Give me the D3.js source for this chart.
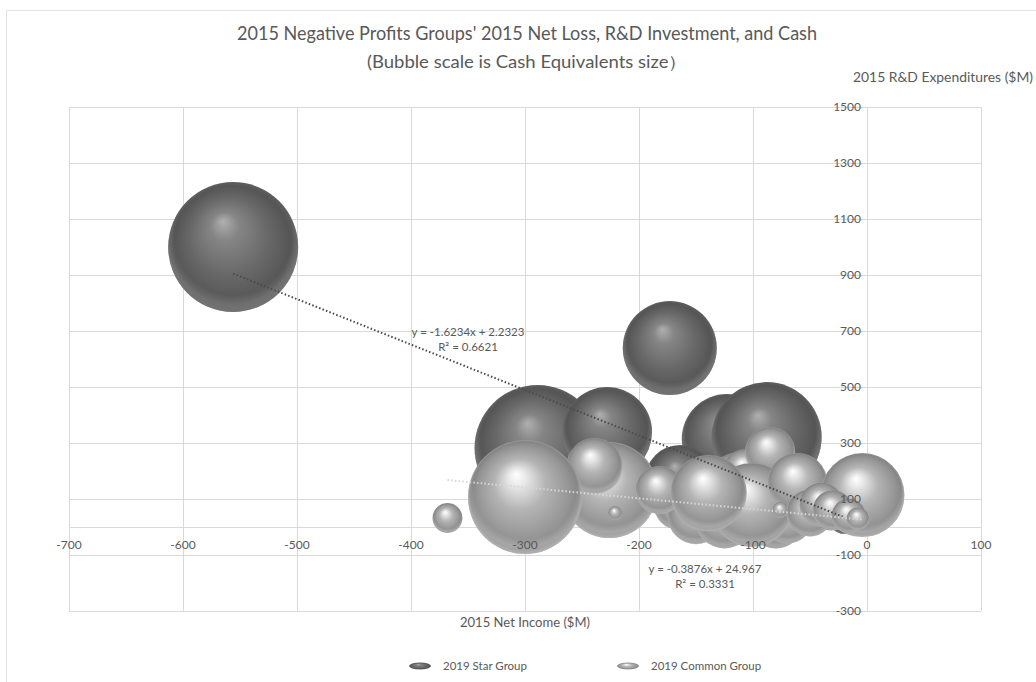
<!DOCTYPE html>
<html><head><meta charset="utf-8">
<script src="https://cdn.jsdelivr.net/npm/d3@7"></script>
<style>
html,body{margin:0;padding:0;background:#fff;}
svg{display:block;font-family:Lato,"Open Sans",sans-serif;}
</style></head>
<body>
<svg id="chart" width="1036" height="682"></svg>
<script>
// ---- data ----
const titleLines = ["2015 Negative Profits Groups' 2015 Net Loss, R&D Investment, and Cash", "(Bubble scale is Cash Equivalents size\uFF09"];
const xTitle = "2015 Net Income ($M)";
const yTitle = "2015 R&D Expenditures ($M)";
const seriesNames = ["2019 Star Group", "2019 Common Group"];
const xTicks = [-700,-600,-500,-400,-300,-200,-100,0,100];
const yTicks = [-300,-100,100,300,500,700,900,1100,1300,1500];

// drawing order = data order (later points drawn in front)
const starX    = [-556, -173, -289, -228, -123, -88, -164, -60, -32, -20];
const starY    = [1000,  639,  282,  339,  314, 321,  168,  90,  60,  30];
const starCash = [2000, 1046, 1879,  958,  958,1432,  580, 300, 190, 110];

const commonX    = [-115, -107, -85, -165, -150, -125, -80, -70, -226, -239, -300, -368, -221, -101, -182, -139, -61, -76,  -4, -50, -40, -30, -16,  -8];
const commonY    = [ 175,  200, 268,   80,   40,   30,  20,  35,  132,  218,  107,   32,   50,   79,  132,  121, 157,  61, 114,  50,  80,  60,  40,  30];
const commonCash = [ 300,  230, 296,  300,  380,  420, 350, 330, 1091,  371, 1538,  106,   23,  835,  273,  690, 426,  30, 835, 260, 230, 190, 140,  60];

const trendSlope = [-1.6234, -0.3876];
const trendIntercept = [2.2323, 24.967];
const trendLabels = [["y = -1.6234x + 2.2323","R\u00B2 = 0.6621"],["y = -0.3876x + 24.967","R\u00B2 = 0.3331"]];

// ---- drawing ----
const svg = d3.select("#chart");
const W = 1036, H = 682;
const plot = {left:69, right:981, top:107, bottom:611};
const x = d3.scaleLinear().domain([-700,100]).range([plot.left, plot.right]);
const y = d3.scaleLinear().domain([-300,1500]).range([plot.bottom, plot.top]);
const r = d3.scaleSqrt().domain([0,2000]).range([0,65]);
const textColor = "#595959", gridColor = "#d9d9d9";

const defs = svg.append("defs");
function grad(id, stops){
  const g = defs.append("radialGradient").attr("id", id)
    .attr("cx","50%").attr("cy","50%").attr("r","50%").attr("fx","42%").attr("fy","30%");
  stops.forEach(s => g.append("stop").attr("offset", s[0]).attr("stop-color", s[1]));
}
grad("gStar", [[0,"#b0b0b0"],[0.22,"#858585"],[0.6,"#686868"],[0.9,"#555555"],[1,"#5e5e5e"]]);
grad("gCommon", [[0,"#ffffff"],[0.12,"#eeeeee"],[0.45,"#b4b4b4"],[0.82,"#949494"],[0.95,"#858585"],[1,"#9a9a9a"]]);
function rimGrad(id, col){
  const g = defs.append("radialGradient").attr("id", id)
    .attr("cx","50%").attr("cy","42%").attr("r","60%");
  g.append("stop").attr("offset",0.75).attr("stop-color",col).attr("stop-opacity",0);
  g.append("stop").attr("offset",0.86).attr("stop-color",col).attr("stop-opacity",0.35);
}
rimGrad("rStar","#9a9a9a");
rimGrad("rCommon","#dcdcdc");

// background + chart border
svg.append("rect").attr("width",W).attr("height",H).attr("fill","#fff");
svg.append("rect").attr("x",6.5).attr("y",10.5).attr("width",1040).attr("height",690)
  .attr("fill","none").attr("stroke","#e3e3e3");

// gridlines
const grid = svg.append("g");
grid.selectAll(".vg").data(xTicks).join("line")
  .attr("x1",d=>x(d)).attr("x2",d=>x(d)).attr("y1",plot.top).attr("y2",plot.bottom)
  .attr("stroke",gridColor).attr("stroke-width",1).attr("shape-rendering","crispEdges");
grid.selectAll(".hg").data(yTicks).join("line")
  .attr("x1",plot.left).attr("x2",plot.right).attr("y1",d=>y(d)).attr("y2",d=>y(d))
  .attr("stroke",gridColor).attr("stroke-width",1).attr("shape-rendering","crispEdges");
grid.append("line").attr("x1",plot.left).attr("x2",plot.right).attr("y1",y(0)).attr("y2",y(0))
  .attr("stroke",gridColor).attr("shape-rendering","crispEdges");

// bubbles
function seriesWithRim(xs, ys, cs, gid, rid){
  const data = xs.map((v,i)=>({x:v, y:ys[i], c:cs[i]}));
  const g = svg.append("g");
  const items = g.selectAll("g.it").data(data).join("g").attr("class","it");
  items.append("circle").attr("cx",d=>x(d.x)).attr("cy",d=>y(d.y)).attr("r",d=>r(d.c))
    .attr("fill",`url(#${gid})`);
  items.append("circle").attr("cx",d=>x(d.x)).attr("cy",d=>y(d.y)).attr("r",d=>r(d.c))
    .attr("fill",`url(#${rid})`);
}
seriesWithRim(starX, starY, starCash, "gStar", "rStar");
seriesWithRim(commonX, commonY, commonCash, "gCommon", "rCommon");

// trendlines
const allX = [starX, commonX];
const trendColors = ["#4a4a4a", "#d6d6d6"];
[0,1].forEach(i=>{
  const ext = d3.extent(allX[i]);
  const pts = ext.map(v=>[x(v), y(trendSlope[i]*v + trendIntercept[i])]);
  svg.append("path").attr("d", d3.line()(pts))
    .attr("stroke",trendColors[i]).attr("stroke-width",2).attr("stroke-dasharray","1.5,2.2")
    .attr("fill","none");
});

// axis labels
const labels = svg.append("g").attr("fill",textColor).attr("font-size",12);
labels.selectAll(".xl").data(xTicks).join("text")
  .attr("x",d=>x(d)).attr("y",y(0)+22).attr("text-anchor","middle").text(d=>d);
labels.selectAll(".yl").data(yTicks).join("text")
  .attr("x",x(0)-6).attr("y",d=>y(d)+4).attr("text-anchor","end").text(d=>d);

// trend labels
const tl = svg.append("g").attr("fill",textColor).attr("font-size",11.5).attr("text-anchor","middle");
tl.append("text").attr("x",468).attr("y",336).text(trendLabels[0][0]);
tl.append("text").attr("x",468).attr("y",351).text(trendLabels[0][1]);
tl.append("text").attr("x",705).attr("y",573).text(trendLabels[1][0]);
tl.append("text").attr("x",705).attr("y",588).text(trendLabels[1][1]);

// titles
svg.append("text").attr("x",527).attr("y",40).attr("text-anchor","middle")
  .attr("fill",textColor).attr("font-size",18.5).attr("textLength",580).attr("lengthAdjust","spacingAndGlyphs")
  .text(titleLines[0]);
svg.append("text").attr("x",527).attr("y",68).attr("text-anchor","middle")
  .attr("fill",textColor).attr("font-size",17).attr("textLength",320).attr("lengthAdjust","spacingAndGlyphs")
  .text(titleLines[1]);
svg.append("text").attr("x",943).attr("y",82).attr("text-anchor","middle")
  .attr("fill",textColor).attr("font-size",13).attr("textLength",180).attr("lengthAdjust","spacingAndGlyphs")
  .text(yTitle);
svg.append("text").attr("x",525).attr("y",627).attr("text-anchor","middle")
  .attr("fill",textColor).attr("font-size",13).attr("textLength",130).attr("lengthAdjust","spacingAndGlyphs")
  .text(xTitle);

// legend
const legX = [420, 628];
const legGrad = ["gStar","gCommon"];
const lg = svg.append("g");
[0,1].forEach(i=>{
  lg.append("ellipse").attr("cx",legX[i]).attr("cy",666).attr("rx",11).attr("ry",3.5)
    .attr("fill",`url(#${legGrad[i]})`);
  lg.append("text").attr("x",legX[i]+23).attr("y",670).attr("fill",textColor)
    .attr("font-size",11.5).text(seriesNames[i]);
});
</script>
</body></html>
